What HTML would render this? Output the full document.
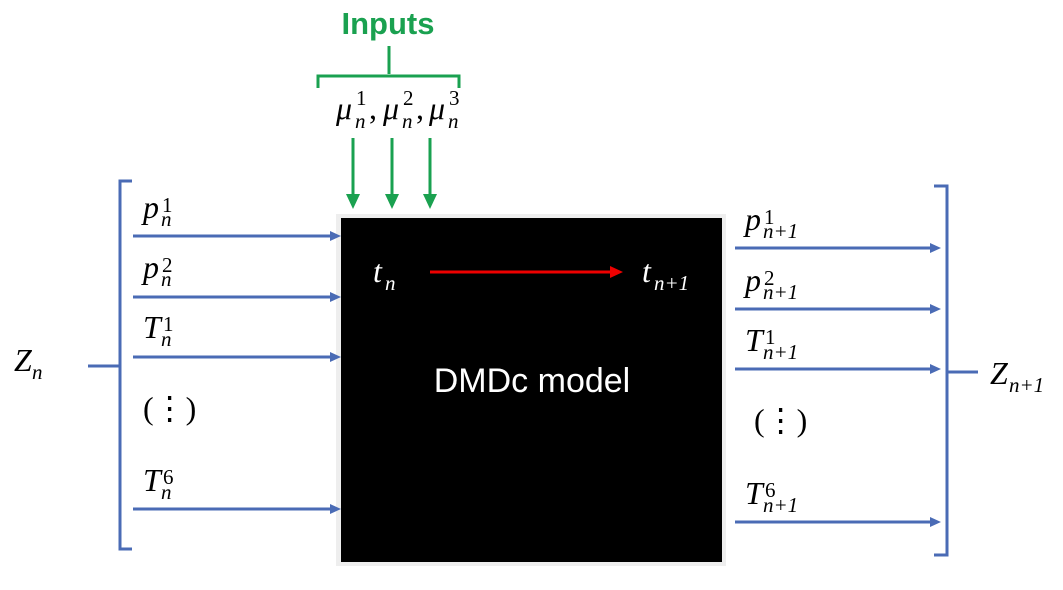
<!DOCTYPE html>
<html><head><style>
body{margin:0;background:#fff;width:1063px;height:585px;overflow:hidden}
svg text{font-family:"Liberation Serif",serif;font-style:italic}
.m{font-size:32px}.s{font-size:21px;font-style:normal}.i{font-size:21px}
</style></head><body>
<svg width="1063" height="585" viewBox="0 0 1063 585" xmlns="http://www.w3.org/2000/svg">
<rect x="336" y="214" width="390" height="352" fill="#eee"/>
<rect x="341" y="218" width="381" height="344" fill="#000"/>
<!-- inputs -->
<text x="388" y="34" text-anchor="middle" style="font-family:'Liberation Sans',sans-serif;font-style:normal;font-weight:bold" font-size="31" fill="#1aa150">Inputs</text>
<path d="M389,46 V74 M318,88 V76 H459 V88" stroke="#1aa150" stroke-width="3" fill="none"/>
<g fill="#000">
<text class="m" x="336" y="119">μ</text><text class="s" x="356" y="105">1</text><text class="i" x="355" y="128">n</text><text class="m" x="369" y="119" style="font-style:normal">,</text>
<text class="m" x="383" y="119">μ</text><text class="s" x="403" y="105">2</text><text class="i" x="402" y="128">n</text><text class="m" x="416" y="119" style="font-style:normal">,</text>
<text class="m" x="429" y="119">μ</text><text class="s" x="449" y="105">3</text><text class="i" x="448" y="128">n</text>
</g>
<g stroke="#1aa150" stroke-width="3">
<line x1="353" y1="138" x2="353" y2="196"/><line x1="392" y1="138" x2="392" y2="196"/><line x1="430" y1="138" x2="430" y2="196"/>
</g>
<g fill="#1aa150"><path d="M346,194 H360 L353,209z"/><path d="M385,194 H399 L392,209z"/><path d="M423,194 H437 L430,209z"/></g>
<!-- left -->
<path d="M132,181 H120 V549 H132 M88,366 H119" stroke="#4a6bb5" stroke-width="3" fill="none"/>
<g stroke="#4a6bb5" stroke-width="3">
<line x1="133" y1="236" x2="332" y2="236"/><line x1="133" y1="297" x2="332" y2="297"/><line x1="133" y1="357" x2="332" y2="357"/><line x1="133" y1="509" x2="332" y2="509"/>
<line x1="735" y1="248" x2="932" y2="248"/><line x1="735" y1="309" x2="932" y2="309"/><line x1="735" y1="369" x2="932" y2="369"/><line x1="735" y1="522" x2="932" y2="522"/>
</g>
<g fill="#4a6bb5">
<path d="M330,231 L341,236 L330,241z"/><path d="M330,292 L341,297 L330,302z"/><path d="M330,352 L341,357 L330,362z"/><path d="M330,504 L341,509 L330,514z"/>
<path d="M930,243 L941,248 L930,253z"/><path d="M930,304 L941,309 L930,314z"/><path d="M930,364 L941,369 L930,374z"/><path d="M930,517 L941,522 L930,527z"/>
</g>
<g fill="#000">
<text class="m" x="14" y="371">Z</text><text class="i" x="32" y="379">n</text>
<text class="m" x="143" y="218">p</text><text class="s" x="162" y="212">1</text><text class="i" x="161" y="226">n</text>
<text class="m" x="143" y="278">p</text><text class="s" x="162" y="272">2</text><text class="i" x="161" y="286">n</text>
<text class="m" x="143" y="338">T</text><text class="s" x="163" y="331">1</text><text class="i" x="161" y="346">n</text>
<text class="m" x="143" y="491">T</text><text class="s" x="163" y="484">6</text><text class="i" x="161" y="499">n</text>
<text class="m" x="143" y="419" style="font-style:normal">(⋮)</text>
<text class="m" x="745" y="230">p</text><text class="s" x="764" y="224">1</text><text class="i" x="763" y="238">n+1</text>
<text class="m" x="745" y="291">p</text><text class="s" x="764" y="285">2</text><text class="i" x="763" y="299">n+1</text>
<text class="m" x="745" y="351">T</text><text class="s" x="765" y="344">1</text><text class="i" x="763" y="359">n+1</text>
<text class="m" x="745" y="504">T</text><text class="s" x="765" y="497">6</text><text class="i" x="763" y="512">n+1</text>
<text class="m" x="754" y="431" style="font-style:normal">(⋮)</text>
<text class="m" x="990" y="384">Z</text><text class="i" x="1009" y="392">n+1</text>
</g>
<path d="M934,186 H947 V555 H934 M947,372 H978" stroke="#4a6bb5" stroke-width="3" fill="none"/>
<!-- inside -->
<g fill="#fff">
<text class="m" x="373" y="282">t</text><text class="i" x="385" y="290">n</text>
<text class="m" x="642" y="282">t</text><text class="i" x="654" y="290">n+1</text>
</g>
<line x1="430" y1="272" x2="612" y2="272" stroke="#e00" stroke-width="3"/>
<path d="M610,266 L623,272 L610,278z" fill="#e00"/>
<text x="532" y="392" text-anchor="middle" font-size="34" fill="#fff" style="font-family:'Liberation Sans',sans-serif;font-style:normal">DMDc model</text>
</svg>
</body></html>
